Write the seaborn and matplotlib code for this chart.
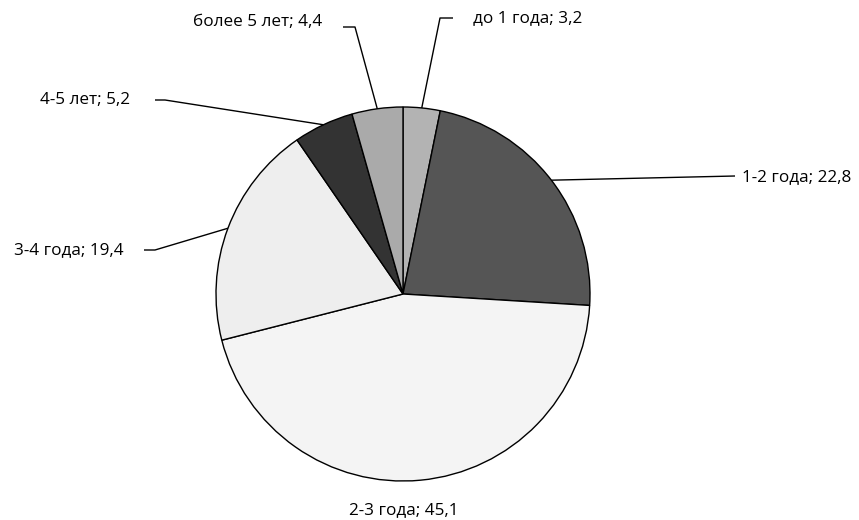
import numpy as np
import matplotlib
matplotlib.use("Agg")
import matplotlib.pyplot as plt
import seaborn as sns

sns.set_theme(style="white")
plt.rcParams["font.family"] = ["Open Sans", "DejaVu Sans"]

categories = ["до 1 года", "1-2 года", "2-3 года", "3-4 года", "4-5 лет", "более 5 лет"]
values = [3.2, 22.8, 45.1, 19.4, 5.2, 4.4]
labels = ["до 1 года; 3,2", "1-2 года; 22,8", "2-3 года; 45,1",
          "3-4 года; 19,4", "4-5 лет; 5,2", "более 5 лет; 4,4"]
colors = ["#b3b3b3", "#555555", "#f4f4f4", "#eeeeee", "#333333", "#aaaaaa"]

W, H = 859, 520
fig = plt.figure(figsize=(W / 100, H / 100), dpi=100)
ax = fig.add_axes([0, 0, 1, 1])

cx, cy, r = 403, H - 294, 187
wedges, _ = ax.pie(values, colors=colors, startangle=90, counterclock=False,
                   center=(cx, cy), radius=r, frame=True,
                   wedgeprops=dict(edgecolor="black", linewidth=1.0))
ax.set_xlim(0, W)
ax.set_ylim(0, H)
ax.set_aspect("equal")
ax.axis("off")

# leader line elbows and text anchors (pixel coordinates, y downward)
layout = {
    "до 1 года":   dict(elbow=[(440, 18), (453, 18)], text=(473, 18), ha="left"),
    "1-2 года":    dict(elbow=[(735, 176)], text=(742, 177), ha="left"),
    "2-3 года":    dict(elbow=None, text=(404, 510), ha="center"),
    "3-4 года":    dict(elbow=[(155, 250), (144, 250)], text=(124, 250), ha="right"),
    "4-5 лет":     dict(elbow=[(165, 100), (155, 100)], text=(130, 100), ha="right"),
    "более 5 лет": dict(elbow=[(355, 27), (343, 27)], text=(322, 22), ha="right"),
}

for w, cat, lab in zip(wedges, categories, labels):
    mid = np.deg2rad((w.theta1 + w.theta2) / 2)
    ex, ey = cx + r * np.cos(mid), cy + r * np.sin(mid)
    spec = layout[cat]
    if spec["elbow"]:
        pts = [(ex, ey)] + [(x, H - y) for x, y in spec["elbow"]]
        xs, ys = zip(*pts)
        ax.plot(xs, ys, color="black", linewidth=1.0, solid_capstyle="butt")
    tx, ty = spec["text"]
    ax.text(tx, H - ty, lab, ha=spec["ha"], va="center", fontsize=12.3,
            color="black")

fig.savefig("out.png", dpi=100)
